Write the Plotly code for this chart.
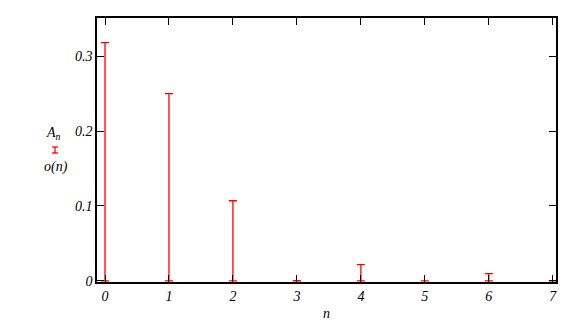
import plotly.graph_objects as go

n_vals = [0, 1, 2, 3, 4, 5, 6, 7]
A_n = [0.318, 0.250, 0.107, 0.0003, 0.0216, 0.0, 0.0096, 0.0]
sigma_low = [0, 0, 0, 0, 0, 0, 0, 0]
base = [0, 0, 0, 0, 0, 0, 0, 0]
y_ticks = [0, 0.1, 0.2, 0.3]
x_ticks = [0, 1, 2, 3, 4, 5, 6, 7]

tickfont = dict(family="Liberation Serif", size=14, color="black", style="italic")

fig = go.Figure()
fig.add_trace(go.Scatter(
    x=n_vals, y=base, mode="markers",
    marker=dict(size=1, color="rgba(0,0,0,0)"),
    error_y=dict(type="data", symmetric=False, array=A_n, arrayminus=sigma_low,
                 color="red", thickness=1.3, width=4),
    showlegend=False, hoverinfo="skip",
))

fig.update_layout(
    width=575, height=320,
    margin=dict(l=97, r=19, t=18, b=38, autoexpand=False),
    paper_bgcolor="white", plot_bgcolor="white",
    xaxis=dict(range=[-0.125, 7.05], tickvals=x_ticks, ticks="inside", ticklen=7,
               tickcolor="black", showline=True, linecolor="black", linewidth=1.5,
               mirror="ticks", showgrid=False, zeroline=False, tickfont=tickfont,
               automargin=False),
    yaxis=dict(range=[-0.0015, 0.351], tickvals=y_ticks, ticktext=["0", "0.1", "0.2", "0.3"],
               ticks="inside", ticklen=7, tickcolor="black", showline=True,
               linecolor="black", linewidth=1.5, mirror="ticks", showgrid=False,
               zeroline=False, tickfont=tickfont, automargin=False),
)

fig.add_annotation(xref="paper", yref="paper", x=(326 - 97) / 459, y=(282 - 313) / 264,
                   xanchor="center", yanchor="middle",
                   text="n", showarrow=False, font=tickfont)
fig.add_annotation(xref="paper", yref="paper", x=(53 - 97) / 459, y=(282 - 133) / 264,
                   xanchor="center", yanchor="middle",
                   text="A<sub>n</sub>", showarrow=False, font=tickfont)
fig.add_annotation(xref="paper", yref="paper", x=(56 - 97) / 459, y=(282 - 167) / 264,
                   xanchor="center", yanchor="middle",
                   text="o(n)", showarrow=False, font=tickfont)
# legend sample of the red error bar
fig.add_shape(type="line", xref="paper", yref="paper",
              x0=(55 - 97) / 459, x1=(55 - 97) / 459, y0=(282 - 153) / 264, y1=(282 - 147) / 264,
              line=dict(color="red", width=1.3))
for yy in (147, 153):
    fig.add_shape(type="line", xref="paper", yref="paper",
                  x0=(52 - 97) / 459, x1=(58 - 97) / 459, y0=(282 - yy) / 264, y1=(282 - yy) / 264,
                  line=dict(color="red", width=1.3))

fig.write_html("out.html")
